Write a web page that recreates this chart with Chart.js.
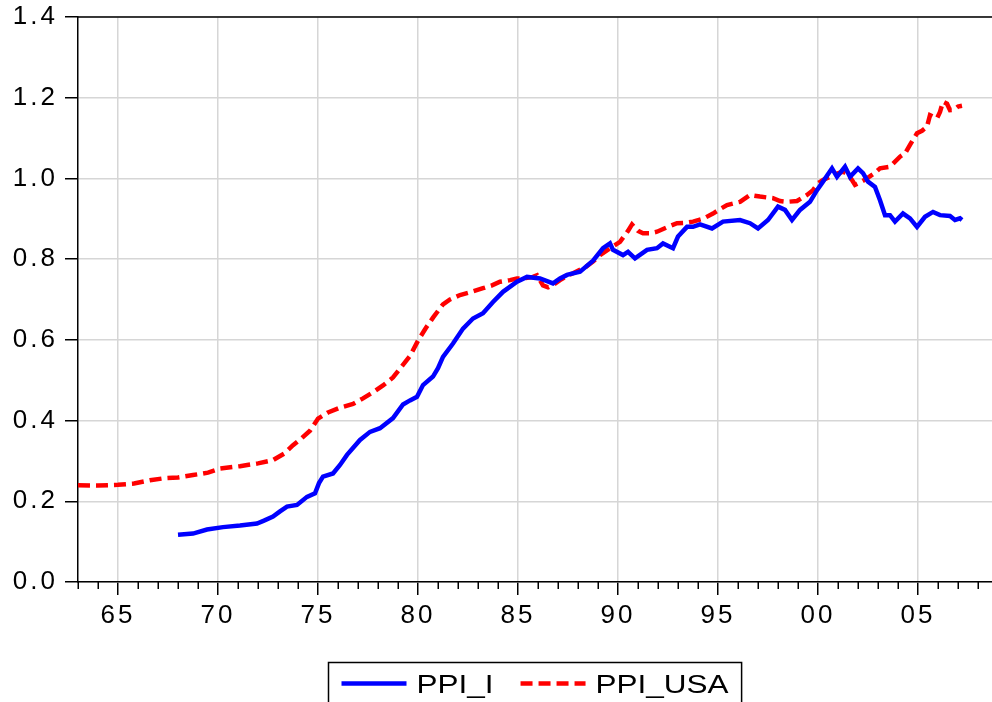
<!DOCTYPE html>
<html>
<head>
<meta charset="utf-8">
<title>PPI_I and PPI_USA</title>
<script src="https://cdn.jsdelivr.net/npm/chart.js@4.4.1/dist/chart.umd.min.js"></script>
<style>
  html, body { margin: 0; padding: 0; background: #fff; overflow: hidden; }
  canvas { display: block; }
</style>
</head>
<body>
<canvas id="ppi-chart" width="992" height="702"></canvas>
<script>
// PPI_I (blue, solid)
const ppiItalyYears = [
    1968.0, 1968.75, 1969.45, 1970.25, 1971.1, 1971.95, 1972.3, 1972.75, 1973.1, 1973.45,
    1973.95, 1974.45, 1974.85, 1975.05, 1975.25, 1975.75, 1976.1, 1976.45, 1977.1, 1977.6,
    1978.1, 1978.75, 1979.25, 1979.6, 1979.95, 1980.25, 1980.75, 1981.0, 1981.25, 1981.75,
    1982.25, 1982.75, 1983.25, 1983.75, 1984.25, 1984.95, 1985.45, 1986.1, 1986.75, 1987.1,
    1987.45, 1988.1, 1988.75, 1989.25, 1989.6, 1989.75, 1990.25, 1990.5, 1990.85, 1991.45,
    1991.95, 1992.25, 1992.75, 1993.0, 1993.45, 1993.75, 1994.1, 1994.7, 1995.25, 1996.1,
    1996.6, 1997.0, 1997.5, 1998.0, 1998.35, 1998.7, 1999.1, 1999.6, 1999.95, 2000.25,
    2000.7, 2000.95, 2001.35, 2001.6, 2002.0, 2002.25, 2002.5, 2002.85, 2003.1, 2003.35,
    2003.6, 2003.85, 2004.25, 2004.6, 2004.95, 2005.35, 2005.75, 2006.1, 2006.6, 2006.85,
    2007.1, 2007.2
];
const ppiItalyValues = [
    0.117, 0.120, 0.130, 0.136, 0.140, 0.145, 0.152, 0.162, 0.175, 0.187,
    0.191, 0.211, 0.220, 0.245, 0.261, 0.269, 0.290, 0.315, 0.352, 0.372,
    0.381, 0.406, 0.440, 0.450, 0.459, 0.488, 0.509, 0.530, 0.558, 0.591,
    0.628, 0.653, 0.666, 0.694, 0.719, 0.744, 0.756, 0.752, 0.740, 0.752,
    0.761, 0.769, 0.796, 0.827, 0.839, 0.823, 0.810, 0.818, 0.802, 0.823,
    0.827, 0.839, 0.827, 0.856, 0.880, 0.880, 0.886, 0.876, 0.893, 0.897,
    0.889, 0.876, 0.897, 0.930, 0.922, 0.897, 0.922, 0.942, 0.971, 0.992,
    1.025, 1.004, 1.029, 1.004, 1.025, 1.013, 0.992, 0.979, 0.946, 0.909,
    0.909, 0.893, 0.913, 0.901, 0.880, 0.905, 0.917, 0.909, 0.907, 0.897,
    0.901, 0.897
];

// PPI_USA (red, dashed)
const ppiUsaYears = [
    1963.0, 1964.0, 1965.0, 1965.8, 1966.6, 1967.3, 1968.0, 1968.75, 1969.5, 1970.1,
    1971.1, 1972.0, 1972.75, 1973.3, 1973.75, 1974.2, 1974.6, 1975.0, 1975.5, 1976.1,
    1976.75, 1977.25, 1977.75, 1978.25, 1978.75, 1979.2, 1979.6, 1980.0, 1980.4, 1980.75,
    1981.25, 1981.6, 1982.1, 1982.6, 1983.25, 1983.7, 1984.1, 1984.6, 1984.95, 1985.4,
    1985.75, 1985.95, 1986.25, 1986.5, 1986.75, 1987.1, 1987.5, 1987.75, 1988.4, 1988.75,
    1989.1, 1989.6, 1990.1, 1990.5, 1990.7, 1991.0, 1991.25, 1991.6, 1991.95, 1992.5,
    1992.95, 1993.4, 1993.75, 1994.25, 1994.75, 1995.1, 1995.45, 1996.1, 1996.6, 1997.1,
    1997.75, 1998.1, 1998.45, 1998.95, 1999.45, 1999.75, 2000.0, 2000.25, 2000.75, 2001.25,
    2001.5, 2001.7, 2001.85, 2002.1, 2002.45, 2002.8, 2003.1, 2003.6, 2004.1, 2004.35,
    2004.6, 2004.95, 2005.2, 2005.45, 2005.6, 2005.95, 2006.1, 2006.25, 2006.45, 2006.6,
    2006.8, 2007.0, 2007.2
];
const ppiUsaValues = [
    0.240, 0.239, 0.241, 0.244, 0.252, 0.257, 0.259, 0.265, 0.271, 0.281,
    0.287, 0.294, 0.302, 0.318, 0.339, 0.357, 0.375, 0.405, 0.420, 0.432,
    0.441, 0.455, 0.470, 0.487, 0.507, 0.535, 0.560, 0.598, 0.630, 0.655,
    0.688, 0.700, 0.711, 0.718, 0.728, 0.735, 0.744, 0.748, 0.752, 0.753,
    0.756, 0.760, 0.735, 0.730, 0.736, 0.748, 0.760, 0.765, 0.781, 0.794,
    0.810, 0.827, 0.843, 0.870, 0.886, 0.870, 0.864, 0.864, 0.868, 0.880,
    0.889, 0.890, 0.893, 0.900, 0.913, 0.924, 0.934, 0.942, 0.959, 0.955,
    0.951, 0.944, 0.942, 0.944, 0.959, 0.971, 0.988, 0.996, 1.008, 1.017,
    1.010, 0.996, 0.984, 0.990, 1.000, 1.012, 1.025, 1.029, 1.054, 1.062,
    1.083, 1.112, 1.118, 1.128, 1.157, 1.149, 1.165, 1.190, 1.185, 1.169,
    1.170, 1.178, 1.180
];

const yearTicks = [1965, 1970, 1975, 1980, 1985, 1990, 1995, 2000, 2005];
const valueTicks = [0, 0.2, 0.4, 0.6, 0.8, 1.0, 1.2, 1.4];

const FONT_FAMILY = '"Liberation Sans", Arial, Helvetica, sans-serif';

function toPoints(years, values) {
    return years.map((yr, i) => ({ x: yr, y: values[i] }));
}

function drawLegend(chart) {
    const { ctx, chartArea } = chart;
    const stretch = 1.26;
    const pad = 13, sample = 65, gap = 10, between = 27;

    ctx.save();
    ctx.letterSpacing = '0px';
    ctx.font = '25px ' + FONT_FAMILY;
    const items = chart.data.datasets.map(ds => ({ ds, w: ctx.measureText(ds.label).width * stretch }));
    const boxW = pad * 2 + items.reduce((s, it) => s + sample + gap + it.w, 0) + between * (items.length - 1);
    const boxL = Math.round((chartArea.left + chartArea.right) / 2 - boxW / 2) + 0.5;
    const boxT = chartArea.bottom + 80.5;

    ctx.strokeStyle = '#000';
    ctx.lineWidth = 1.5;
    ctx.strokeRect(boxL, boxT, boxW, 60);

    const midY = boxT + 21;
    let x = boxL + pad;
    items.forEach(({ ds, w }) => {
        ctx.save();
        ctx.strokeStyle = ds.borderColor;
        ctx.lineWidth = ds.borderWidth;
        ctx.setLineDash(ds.borderDash || []);
        ctx.beginPath();
        ctx.moveTo(x, midY);
        ctx.lineTo(x + sample, midY);
        ctx.stroke();
        ctx.restore();

        ctx.save();
        ctx.fillStyle = '#000';
        ctx.textBaseline = 'alphabetic';
        ctx.translate(x + sample + gap, midY + 9);
        ctx.scale(stretch, 1);
        ctx.fillText(ds.label, 0, 0);
        ctx.restore();

        x += sample + gap + w + between;
    });
    ctx.restore();
}

// top frame line, yearly minor ticks and the boxed legend
const eviewsFrame = {
    id: 'eviewsFrame',
    beforeUpdate(chart) {
        chart.ctx.letterSpacing = '3px';
    },
    beforeDraw(chart) {
        chart.ctx.letterSpacing = '3px';
    },
    afterDraw(chart) {
        const { ctx, chartArea, scales } = chart;
        ctx.save();
        ctx.strokeStyle = '#000';
        ctx.lineWidth = 1.5;
        ctx.beginPath();
        ctx.moveTo(chartArea.left, chartArea.top);
        ctx.lineTo(chartArea.right, chartArea.top);
        ctx.stroke();

        for (let yr = Math.ceil(scales.x.min); yr <= scales.x.max; yr++) {
            if (yr % 5 === 0) continue;
            const px = Math.round(scales.x.getPixelForValue(yr)) + 0.25;
            ctx.beginPath();
            ctx.moveTo(px, chartArea.bottom);
            ctx.lineTo(px, chartArea.bottom + 7);
            ctx.stroke();
        }
        ctx.restore();
        drawLegend(chart);
    }
};

const ctx = document.getElementById('ppi-chart').getContext('2d');
const ppiChart = new Chart(ctx, {
    type: 'line',
    data: {
        datasets: [
            {
                label: 'PPI_I',
                data: toPoints(ppiItalyYears, ppiItalyValues),
                borderColor: '#0000ff',
                borderWidth: 4.5,
                pointRadius: 0,
                tension: 0,
                fill: false
            },
            {
                label: 'PPI_USA',
                data: toPoints(ppiUsaYears, ppiUsaValues),
                borderColor: '#ff0000',
                borderWidth: 4.5,
                borderDash: [12, 6],
                pointRadius: 0,
                tension: 0,
                fill: false
            }
        ]
    },
    options: {
        responsive: false,
        animation: false,
        devicePixelRatio: 1,
        layout: {
            padding: { top: 17, right: 0, bottom: 0, left: 0 }
        },
        plugins: {
            legend: { display: false },
            tooltip: { enabled: false }
        },
        scales: {
            x: {
                type: 'linear',
                min: 1963,
                max: 2008.7,
                afterBuildTicks: scale => { scale.ticks = yearTicks.map(v => ({ value: v })); },
                afterFit: scale => {
                    scale.height = 120;
                    scale.paddingLeft = 0;
                    scale.paddingRight = 0;
                },
                grid: {
                    color: '#d6d6d6',
                    lineWidth: 1.5,
                    tickColor: '#000',
                    tickLength: 13,
                    tickWidth: 1.5
                },
                border: { display: true, color: '#000', width: 1.5 },
                ticks: {
                    autoSkip: false,
                    maxRotation: 0,
                    padding: 5,
                    color: '#000',
                    font: { family: FONT_FAMILY, size: 26 },
                    callback: v => String(v % 100).padStart(2, '0')
                }
            },
            y: {
                min: 0,
                max: 1.4,
                afterBuildTicks: scale => { scale.ticks = valueTicks.map(v => ({ value: v })); },
                afterFit: scale => {
                    scale.width = 78;
                    scale.paddingTop = 0;
                    scale.paddingBottom = 0;
                },
                grid: {
                    color: '#d6d6d6',
                    lineWidth: 1.5,
                    tickColor: '#000',
                    tickLength: 13,
                    tickWidth: 1.5
                },
                border: { display: true, color: '#000', width: 1.5 },
                ticks: {
                    padding: 7,
                    color: '#000',
                    font: { family: FONT_FAMILY, size: 26 },
                    callback: v => v.toFixed(1)
                }
            }
        }
    },
    plugins: [eviewsFrame]
});
</script>
</body>
</html>
